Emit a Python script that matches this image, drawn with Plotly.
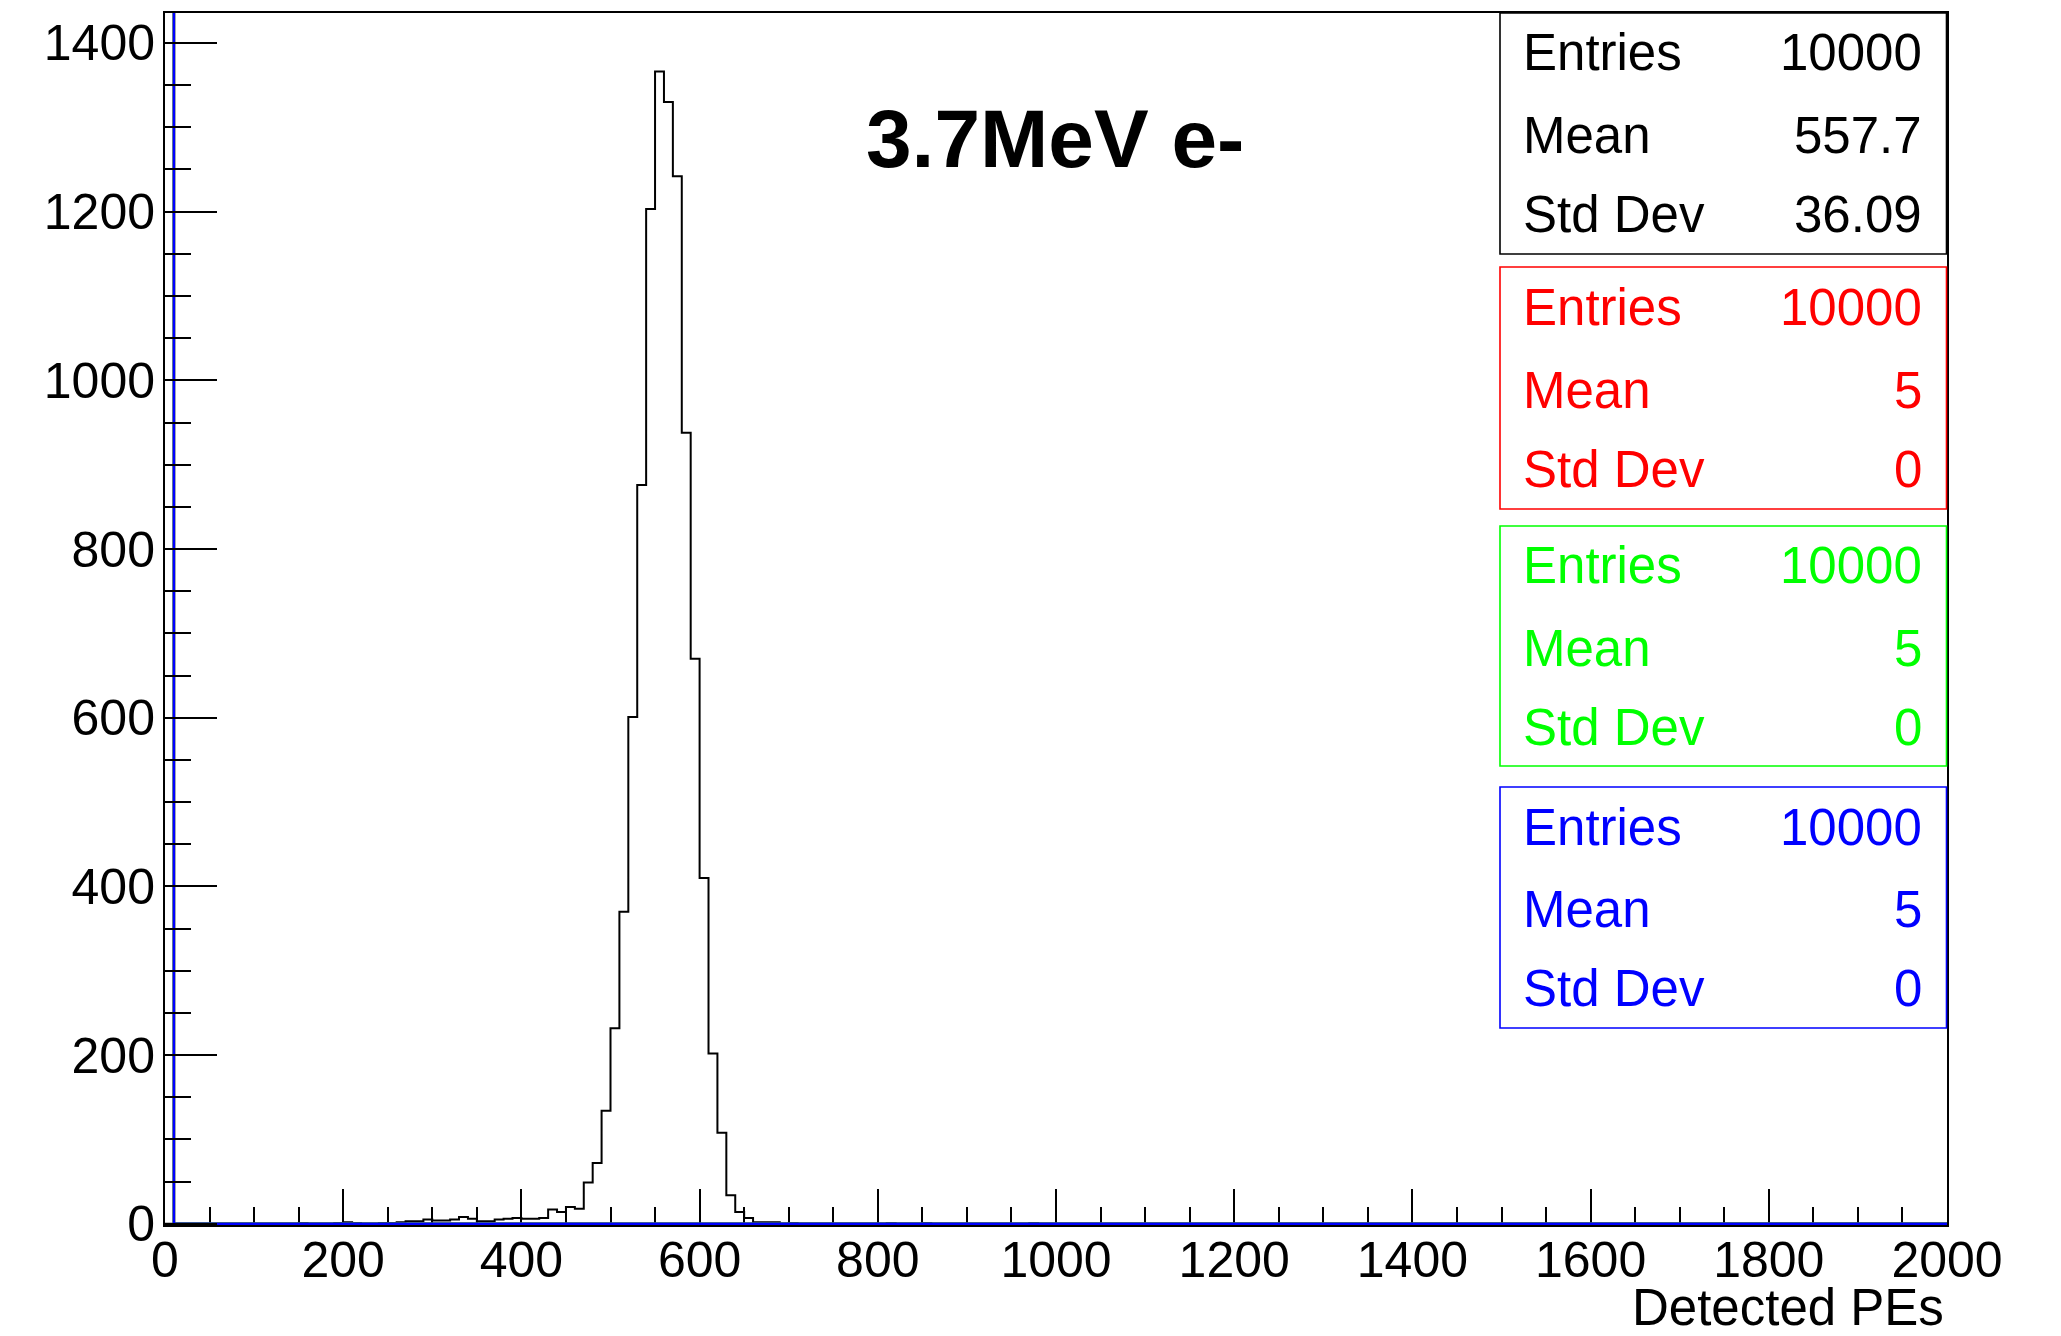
import numpy as np
import plotly.graph_objects as go

# ---------------- data ----------------
x_min, x_max = 0, 2000
bin_width = 10
n_bins = 200

# black histogram: counts per 10-PE bin, starting at 150 PE (bins 150..850)
black_start = 150
black_counts = [1, 0, 0, 0, 1, 2, 1, 0, 0, 1,          # 150-240
                1, 2, 3, 3, 5, 4, 4, 5, 8, 6,          # 250-340
                3, 3, 5, 6, 7, 6, 6, 7, 17, 14,        # 350-440
                20, 18, 49, 72, 134, 232, 370, 601, 876, 1203,   # 450-540
                1366, 1330, 1242, 938, 670, 410, 202, 108, 34, 14,  # 550-640
                7, 2, 2, 2, 0, 1, 0, 0, 0, 0,          # 650-740
                0, 0, 0, 0, 0, 0, 1, 0, 0, 0,          # 750-840
                1]                                     # 850
black_extra = {970: 1}

# coloured histograms: all entries at 5 PE (bin 0-10)
colour_bin_start = 0
colour_counts = [10000]

stats_labels = ["Entries", "Mean", "Std Dev"]
stats_black = ["10000", "557.7", "36.09"]
stats_red = ["10000", "5", "0"]
stats_green = ["10000", "5", "0"]
stats_blue = ["10000", "5", "0"]

title_text = "3.7MeV e-"
x_title = "Detected PEs"
x_ticks = [0, 200, 400, 600, 800, 1000, 1200, 1400, 1600, 1800, 2000]
y_ticks = [0, 200, 400, 600, 800, 1000, 1200, 1400]
y_top = 1435.5

# ---------------- build histograms ----------------
edges = np.arange(n_bins + 1) * bin_width + x_min


def full_counts(start, counts, extra=None):
    c = np.zeros(n_bins)
    i0 = int((start - x_min) / bin_width)
    c[i0:i0 + len(counts)] = counts
    if extra:
        for k, v in extra.items():
            c[int((k - x_min) / bin_width)] = v
    return c


def step_xy(c):
    xs = list(edges)
    ys = list(c) + [c[-1]]
    return xs, ys


FONT = "Liberation Sans, Arial, Helvetica, sans-serif"
W, H = 2061, 1336
L, R, T, B = 165, 1947, 13, 1225


def px(p):
    return (p - L) / (R - L)


def py(p):
    return (B - p) / (B - T)


fig = go.Figure()

bx, by = step_xy(full_counts(black_start, black_counts, black_extra))
fig.add_trace(go.Scatter(x=bx, y=by, mode="lines", line=dict(color="black", width=2, shape="hv"),
                         hoverinfo="skip", showlegend=False))
for col in ["#ff0000", "#00ff00", "#0000ff"]:
    cx, cy = step_xy(full_counts(colour_bin_start, colour_counts))
    fig.add_trace(go.Scatter(x=cx, y=cy, mode="lines", line=dict(color=col, width=2.6, shape="hv"),
                             hoverinfo="skip", showlegend=False))

fig.update_layout(
    width=W, height=H,
    margin=dict(l=L, r=W - R, t=T, b=H - B, pad=0),
    paper_bgcolor="white", plot_bgcolor="white",
    font=dict(family=FONT, size=50, color="black"),
    showlegend=False,
)
fig.update_xaxes(
    range=[x_min, x_max], tickvals=x_ticks, ticktext=[str(v) for v in x_ticks],
    ticks="inside", ticklen=36, tickwidth=2, tickcolor="black",
    minor=dict(ticks="inside", ticklen=18, tickwidth=2, dtick=50, tickcolor="black", showgrid=False),
    showline=True, linecolor="black", linewidth=2, mirror=True,
    showgrid=False, zeroline=False, layer="below traces",
    tickfont=dict(size=50, family=FONT), ticklabelstandoff=-10,
)
fig.update_yaxes(
    range=[-1.4, y_top], tickvals=y_ticks, ticktext=[str(v) for v in y_ticks],
    ticks="inside", ticklen=52, tickwidth=2, tickcolor="black",
    minor=dict(ticks="inside", ticklen=26, tickwidth=2, dtick=50, tickcolor="black", showgrid=False),
    showline=True, linecolor="black", linewidth=2, mirror=True,
    showgrid=False, zeroline=False,
    tickfont=dict(size=50, family=FONT), ticklabelstandoff=-2,
)

ann = []
shapes = []
ann.append(dict(text="<b>" + title_text + "</b>", x=px(1055), y=py(138), xref="paper", yref="paper",
                xanchor="center", yanchor="middle", showarrow=False, font=dict(size=82, family=FONT, color="black")))
ann.append(dict(text=x_title, x=px(1945), y=py(1307), xref="paper", yref="paper",
                xanchor="right", yanchor="middle", showarrow=False, font=dict(size=51, family=FONT, color="black"),
                borderpad=0))

boxes = [
    ("black", stats_black, 13, 254, [52.6, 135.4, 214.2]),
    ("#ff0000", stats_red, 267, 509, [307.6, 390.4, 469.2]),
    ("#00ff00", stats_green, 526, 766, [565, 648, 727]),
    ("#0000ff", stats_blue, 787, 1028, [827, 909.6, 988.4]),
]
for col, vals, y0, y1, rows in boxes:
    shapes.append(dict(type="rect", xref="paper", yref="paper", x0=px(1500), x1=px(1946.5),
                       y0=py(y1), y1=py(y0), line=dict(color=col, width=1.6), fillcolor="white", layer="above"))
    for lab, val, yy in zip(stats_labels, vals, rows):
        ann.append(dict(text=lab, x=px(1521), y=py(yy), xref="paper", yref="paper", xanchor="left",
                        yanchor="middle", showarrow=False, font=dict(size=51, family=FONT, color=col)))
        ann.append(dict(text=val, x=px(1924), y=py(yy), xref="paper", yref="paper", xanchor="right",
                        yanchor="middle", showarrow=False, font=dict(size=51, family=FONT, color=col)))

fig.update_layout(annotations=ann, shapes=shapes)
fig.write_html("out.html", config={"displayModeBar": False},
               post_script="document.body.style.margin='0px';document.body.style.overflow='hidden';")
